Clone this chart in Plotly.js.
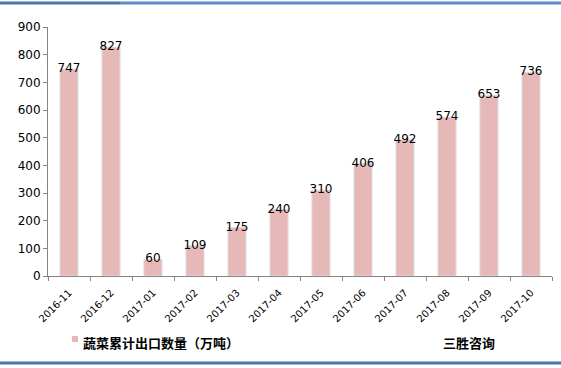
<!DOCTYPE html>
<html>
<head>
<meta charset="utf-8">
<script src="https://cdn.plot.ly/plotly-3.0.1.min.js"></script>
<style>
html,body{margin:0;padding:0;background:#fff;}
#chart{width:561px;height:368px;}
</style>
</head>
<body>
<div id="chart"></div>
<script>
const categories = ["2016-11","2016-12","2017-01","2017-02","2017-03","2017-04","2017-05","2017-06","2017-07","2017-08","2017-09","2017-10"];
const exportVolume = [747, 827, 60, 109, 175, 240, 310, 406, 492, 574, 653, 736];
const seriesName = "蔬菜累计出口数量（万吨）";
const sourceLabel = "三胜咨询";
const yTicks = [0,100,200,300,400,500,600,700,800,900];
const barColor = "#e6b9b8";

const L = 48, T = 27, W = 504, H = 249;
function px(x){ return (x - L) / W; }
function py(y){ return (T + H - y) / H; }

const traces = [
  {
    type: "bar",
    x: categories,
    y: exportVolume,
    name: seriesName,
    width: 0.43,
    marker: {color: barColor, line: {color: "#dcdcdc", width: 1}},
    showlegend: false,
    hoverinfo: "x+y"
  },
  {
    type: "scatter",
    mode: "text",
    x: categories,
    y: exportVolume,
    text: exportVolume.map(String),
    textposition: "middle center",
    textfont: {family: "DejaVu Sans", size: 12, color: "#000"},
    showlegend: false,
    hoverinfo: "skip"
  }
];

const layout = {
  width: 561, height: 368,
  margin: {l: L, r: 561 - L - W, t: T, b: 368 - T - H, autoexpand: false},
  paper_bgcolor: "#fff", plot_bgcolor: "#fff",
  font: {family: "DejaVu Sans", color: "#000"},
  showlegend: false,
  xaxis: {
    type: "category",
    automargin: false,
    tickangle: -45,
    tickfont: {family: "DejaVu Sans", size: 10, color: "#000"},
    ticks: "outside", tickson: "boundaries", ticklen: 4, tickcolor: "#868686",
    ticklabelstandoff: 6,
    showline: true, linecolor: "#868686", linewidth: 1,
    showgrid: false, zeroline: false,
    range: [-0.5, 11.5]
  },
  yaxis: {
    automargin: false,
    range: [0, 900],
    tickvals: yTicks,
    ticktext: yTicks.map(String),
    tickfont: {family: "DejaVu Sans", size: 12, color: "#000"},
    ticks: "outside", ticklen: 4, tickcolor: "#868686",
    showline: true, linecolor: "#868686", linewidth: 1,
    showgrid: false, zeroline: false
  },
  annotations: [
    {
      text: seriesName, xref: "paper", yref: "paper",
      x: px(81), y: py(342), xanchor: "left", yanchor: "middle",
      showarrow: false,
      font: {family: "Noto Sans CJK SC", size: 13, color: "#000", weight: "bold"}
    },
    {
      text: sourceLabel, xref: "paper", yref: "paper",
      x: px(441), y: py(342), xanchor: "left", yanchor: "middle",
      showarrow: false,
      font: {family: "Noto Sans CJK SC", size: 13, color: "#000", weight: "bold"}
    }
  ],
  shapes: [
    {type: "rect", xref: "paper", yref: "paper", x0: px(72), x1: px(78), y0: py(336), y1: py(342), fillcolor: barColor, line: {width: 0}},
    {type: "line", xref: "paper", yref: "paper", x0: px(0), x1: px(120), y0: py(3), y1: py(3), line: {color: "#4a76b0", width: 3}},
    {type: "line", xref: "paper", yref: "paper", x0: px(120), x1: px(561), y0: py(3), y1: py(3), line: {color: "#5b8ccb", width: 3}},
    {type: "line", xref: "paper", yref: "paper", x0: px(0), x1: px(561), y0: py(363), y1: py(363), line: {color: "#4a76b0", width: 3}}
  ]
};

Plotly.newPlot("chart", traces, layout, {displayModeBar: false, staticPlot: true});
</script>
</body>
</html>
